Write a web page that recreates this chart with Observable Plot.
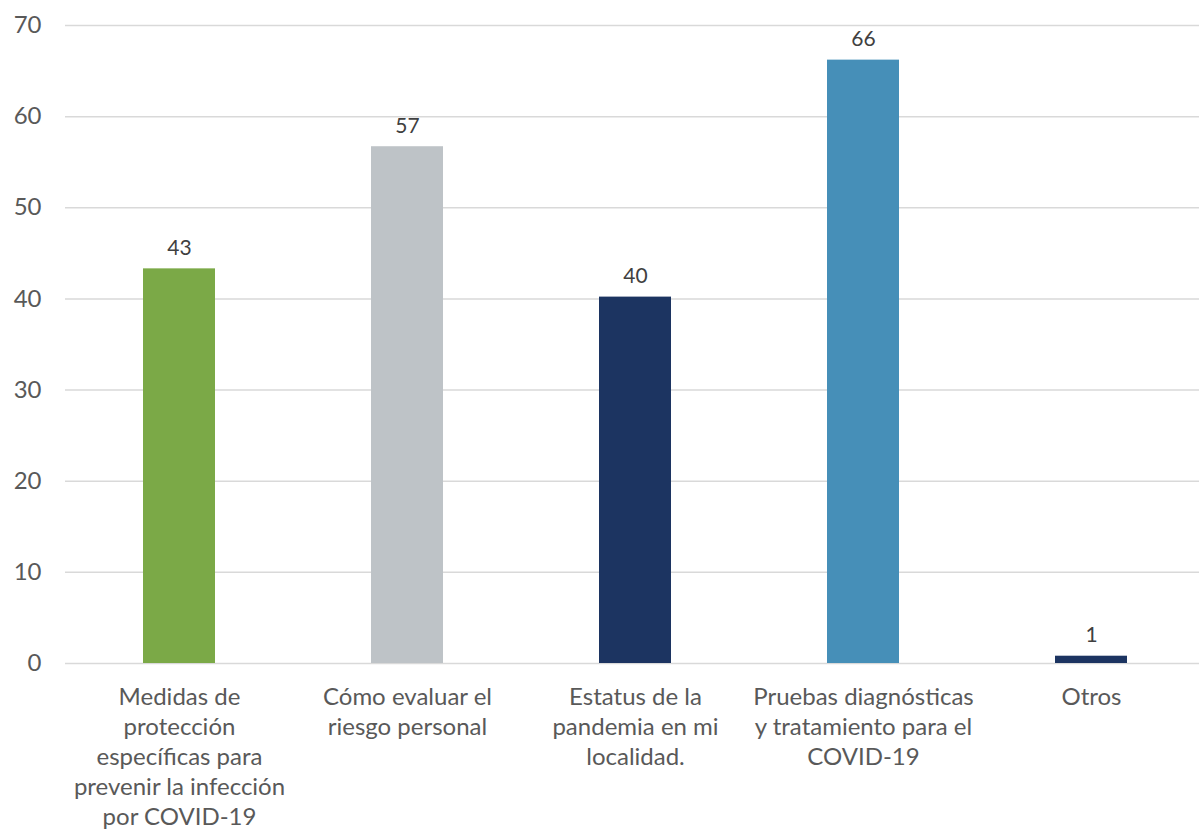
<!DOCTYPE html>
<html>
<head>
<meta charset="utf-8">
<script src="https://cdn.jsdelivr.net/npm/d3@7"></script>
<script src="https://cdn.jsdelivr.net/npm/@observablehq/plot@0.6"></script>
<style>
  html, body { margin: 0; padding: 0; background: #fff; }
  #chart svg { display: block; }
</style>
</head>
<body>
<div id="chart"></div>
<script>
const categories = ["Medidas", "Cómo", "Estatus", "Pruebas", "Otros"];
const tickLabels = [
  "Medidas de\nprotección\nespecíficas para\nprevenir la infección\npor COVID-19",
  "Cómo evaluar el\nriesgo personal",
  "Estatus de la\npandemia en mi\nlocalidad.",
  "Pruebas diagnósticas\ny tratamiento para el\nCOVID-19",
  "Otros"
];
const values = [43.3, 56.7, 40.2, 66.2, 0.8];
const valueLabels = ["43", "57", "40", "66", "1"];
const colors = ["#7BA947", "#BEC3C7", "#1C3461", "#468FB8", "#1C3461"];
const yTicks = [0, 10, 20, 30, 40, 50, 60, 70];

const data = categories.map((c, i) => ({cat: c, value: values[i], label: valueLabels[i], tick: tickLabels[i], color: colors[i]}));

const font = "Lato, 'Open Sans', sans-serif";

const chart = Plot.plot({
  width: 1199,
  height: 832,
  marginLeft: 65,
  marginRight: 0,
  marginTop: 25,
  marginBottom: 169,
  style: {fontFamily: font, background: "#fff"},
  x: {domain: categories, range: [65, 1205], paddingInner: 0.684, paddingOuter: 0.342, axis: null},
  y: {domain: [0, 70], axis: null},
  marks: [
    Plot.ruleY(yTicks, {stroke: "#d9d9d9", strokeWidth: 1.5}),
    Plot.text(yTicks, {y: d => d, text: d => String(d), frameAnchor: "left", textAnchor: "end", dx: -24, fontSize: 24, fill: "#595959"}),
    Plot.barY(data, {x: "cat", y: "value", fill: "color"}),
    Plot.text(data, {x: "cat", y: "value", text: "label", lineAnchor: "bottom", dy: -14, fontSize: 21, fill: "#404040"}),
    Plot.text(data, {x: "cat", y: () => 0, text: "tick", lineAnchor: "top", dy: 20, fontSize: 24, lineHeight: 1.25, fill: "#595959"})
  ]
});
document.getElementById("chart").appendChild(chart);
</script>
</body>
</html>
